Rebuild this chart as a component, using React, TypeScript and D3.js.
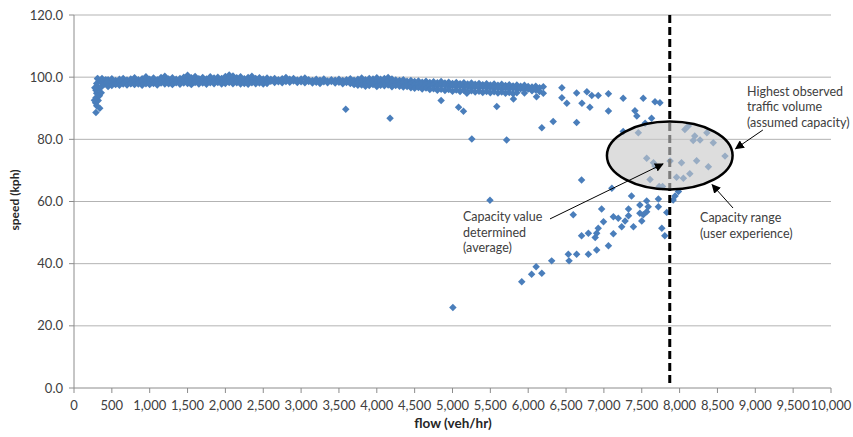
import React from 'react';
import * as d3 from 'd3';

const W = 853;
const H = 437;

const xTickValues = [0, 500, 1000, 1500, 2000, 2500, 3000, 3500, 4000, 4500, 5000, 5500, 6000, 6500, 7000, 7500, 8000, 8500, 9000, 9500, 10000];
const yTickValues = [0, 20, 40, 60, 80, 100, 120];

// start-up cluster at very low flow
const rampUpPoints: [number, number][] = [
  [290, 88.6], [340, 90.0], [300, 90.8], [285, 91.8], [320, 92.5], [290, 93.4], [335, 94.0],
  [300, 94.8], [290, 95.8], [330, 96.3], [310, 97.0], [300, 98.0], [350, 98.8], [320, 99.3],
  [380, 97.5], [370, 99.6], [400, 98.9], [420, 99.2], [360, 96.8], [400, 97.8], [430, 98.2], [310, 99.6],
  [270, 92.6], [275, 96.6], [360, 95.0],
];

// dense free-flow band: [flow, speeds...]
const freeFlowBand: number[][] = [
  [450, 99.2, 98.1, 97.0], [500, 99.5, 98.4, 97.3], [550, 98.9, 98.0, 97.6], [600, 99.3, 98.6, 97.4],
  [650, 99.6, 98.2, 97.8], [700, 99.1, 98.5, 97.5], [750, 99.4, 98.0, 97.9], [800, 99.8, 98.7, 97.6],
  [850, 99.2, 98.3, 97.8], [900, 99.5, 98.6, 97.4], [950, 100.1, 98.9, 97.9], [1000, 99.3, 98.4, 97.6],
  [1050, 99.7, 98.8, 98.0], [1100, 99.2, 98.3, 97.5], [1150, 99.9, 98.9, 98.1], [1200, 100.3, 99.1, 97.8],
  [1250, 99.4, 98.6, 97.9], [1300, 99.8, 98.5, 97.6], [1350, 99.3, 98.9, 98.2], [1400, 99.6, 98.4, 97.7],
  [1450, 100.0, 99.0, 98.1], [1500, 100.6, 99.2, 98.0], [1550, 99.8, 98.7, 97.6], [1600, 100.2, 99.0, 98.3],
  [1650, 99.5, 98.6, 97.8], [1700, 99.9, 98.8, 98.1], [1750, 99.4, 98.5, 97.7], [1800, 100.1, 99.1, 98.2],
  [1850, 99.7, 98.7, 97.9], [1900, 100.0, 98.9, 98.3], [1950, 99.6, 98.4, 97.8], [2000, 100.2, 99.2, 98.0],
  [2050, 100.7, 99.4, 98.3], [2100, 100.4, 99.0, 97.9], [2150, 99.8, 98.8, 98.2], [2200, 100.1, 99.3, 97.8],
  [2250, 99.5, 98.6, 98.0], [2300, 99.9, 98.9, 97.7], [2350, 100.3, 99.1, 98.2], [2400, 99.6, 98.5, 97.9],
  [2450, 99.8, 98.8, 98.1], [2500, 99.4, 98.6, 97.8], [2550, 99.7, 98.4, 98.0], [2600, 99.3, 98.7],
  [2650, 99.6, 98.3], [2700, 99.2, 98.5], [2750, 99.5, 98.2], [2800, 99.9, 98.6], [2850, 99.3, 98.4],
  [2900, 99.6, 98.8], [2950, 99.1, 98.3], [3000, 99.4, 98.5], [3050, 99.7, 98.2], [3100, 99.2, 98.6],
  [3150, 98.9, 98.1], [3200, 99.3, 98.4], [3250, 99.0, 98.0], [3300, 99.4, 98.5], [3350, 98.8, 98.2],
  [3400, 99.2, 98.6], [3450, 99.0, 98.1], [3500, 99.3, 98.4], [3550, 98.9, 97.9], [3600, 99.2, 98.3],
  [3650, 99.5, 98.0], [3700, 99.0, 98.5, 97.6], [3750, 99.3, 98.2, 97.4], [3800, 99.7, 98.6, 97.5],
  [3850, 99.2, 98.0, 97.1], [3900, 99.6, 98.4, 97.3], [3950, 99.4, 98.7, 97.6], [4000, 99.8, 98.3, 97.0],
  [4050, 99.3, 98.5, 97.4], [4100, 99.6, 98.1, 97.2], [4150, 99.9, 98.6, 97.5], [4200, 99.4, 98.2, 96.9],
  [4250, 99.1, 98.4, 97.3], [4300, 98.9, 98.0, 97.1], [4350, 99.2, 98.3, 96.8], [4400, 98.7, 97.8, 97.0],
  [4450, 98.9, 97.9, 96.6], [4500, 98.6, 97.6, 96.4], [4550, 98.8, 97.5, 96.7], [4600, 98.4, 97.3, 96.2],
  [4650, 98.7, 97.7, 96.5], [4700, 98.3, 97.4, 96.0], [4750, 98.5, 97.6, 96.3], [4800, 98.2, 97.2, 95.8],
  [4850, 98.6, 97.5, 96.1], [4900, 98.1, 97.3, 95.7], [4950, 98.4, 97.0, 96.0], [5000, 98.0, 97.2, 95.5],
  [5050, 98.3, 96.9, 95.9], [5100, 97.9, 97.1, 95.4], [5150, 98.2, 96.8, 95.8], [5200, 97.8, 97.0, 95.3],
  [5250, 98.1, 96.7, 95.6], [5300, 97.7, 96.9, 95.2], [5350, 98.0, 96.6, 95.5], [5400, 97.6, 96.8, 95.1],
  [5450, 97.9, 96.5, 95.4], [5500, 97.5, 96.7, 95.0], [5550, 97.8, 96.4, 95.3], [5600, 97.4, 96.6, 94.9],
  [5650, 97.7, 96.3, 95.2], [5700, 97.3, 96.5, 94.8], [5750, 97.6, 96.2, 95.1], [5800, 97.2, 96.4, 94.7],
  [5850, 97.5, 96.1, 95.0], [5900, 97.1, 96.3], [5950, 97.4, 96.0, 94.9], [6000, 97.0, 96.2],
  [6050, 96.8, 95.6], [6100, 97.1, 95.9], [6150, 96.6, 95.4], [6200, 96.9],
];

// scattered points near free flow / transition
const stragglerPoints: [number, number][] = [
  [3590, 89.7], [4175, 86.8], [4850, 92.5], [5080, 90.3], [5145, 89.0], [5190, 94.8], [5585, 90.6],
  [5805, 93.0], [6110, 93.7], [6200, 94.8], [5255, 80.1], [5715, 79.8], [6180, 83.7], [6330, 85.7],
  [6445, 96.6], [6445, 93.4], [6510, 91.6], [6640, 94.9], [6640, 85.4], [6710, 91.6], [6775, 95.3],
  [6815, 90.3], [6840, 94.1], [6925, 94.1], [7060, 94.7], [7060, 89.1], [7255, 93.2], [7410, 89.2],
  [7435, 87.5], [7520, 93.2], [7545, 85.2], [7630, 86.8], [7675, 92.1], [7740, 91.8],
];

// points around capacity
const capacityPoints: [number, number][] = [
  [7255, 82.5], [7455, 82.1], [8070, 83.2], [8115, 84.3], [8200, 81.1], [8180, 79.6], [8270, 79.8],
  [8360, 82.1], [8445, 78.9], [8600, 74.6], [7565, 73.9], [7655, 72.5], [7675, 71.4], [7875, 73.0],
  [8025, 72.5], [8225, 73.1], [8380, 71.2], [7610, 67.1], [7960, 67.8], [8050, 67.5], [8135, 68.9],
  [7730, 64.8], [7775, 64.8], [7985, 63.2], [7940, 61.8], [7365, 61.8], [7105, 64.3], [6705, 66.9],
];

// congested branch
const congestedPoints: [number, number][] = [
  [7565, 60.2], [7720, 60.8], [7720, 58.3], [7585, 58.3], [7475, 58.9], [7325, 57.6], [7475, 56.2],
  [7565, 56.7], [7830, 56.5], [7915, 60.5], [6970, 57.6], [6595, 55.7], [7125, 55.1], [7190, 54.6],
  [7280, 53.7], [7325, 55.4], [7520, 55.7], [7500, 53.7], [6995, 53.5], [7390, 51.9], [7235, 51.9],
  [6925, 51.4], [6905, 49.8], [6795, 49.8], [6705, 49.0], [6885, 48.4], [7125, 49.6], [7765, 51.4],
  [7805, 49.0], [7060, 45.8], [6905, 44.4], [6795, 43.0], [6640, 43.0], [6530, 43.0], [6540, 40.9],
  [6310, 40.9], [6105, 39.0], [6045, 36.6], [6180, 36.9], [5915, 34.2], [5005, 25.9], [5495, 60.4],
];

const capacityFlow = 7870;
const ellipseCenter = [7870, 74.8];
const ellipseRadii = [830, 10.9];

const annotations = [
  { lines: ['Highest observed', 'traffic volume', '(assumed capacity)'], at: [8890, 94.0], from: [9100, 83.0], to: [8740, 77.0] },
  { lines: ['Capacity range', '(user experience)'], at: [8270, 53.4], from: [8706, 57.9], to: [8430, 65.4] },
  { lines: ['Capacity value', 'determined', '(average)'], at: [5139, 53.7], from: [6288, 54.4], to: [7781, 72.1] },
];

const FONT = 'Lato, "Open Sans", sans-serif';

export default function App() {
  const x = d3.scaleLinear().domain([0, 10000]).range([74, 831]);
  const y = d3.scaleLinear().domain([0, 120]).range([388, 15]);
  const fmtX = d3.format(',');
  const fmtY = d3.format('.1f');

  const allPoints: [number, number][] = [];
  rampUpPoints.forEach((p) => allPoints.push(p));
  freeFlowBand.forEach((row) => row.slice(1).forEach((s) => allPoints.push([row[0], s])));
  stragglerPoints.forEach((p) => allPoints.push(p));
  capacityPoints.forEach((p) => allPoints.push(p));
  congestedPoints.forEach((p) => allPoints.push(p));

  const diamond = {
    draw(ctx: any, size: number) {
      const r = Math.sqrt(size / 2);
      ctx.moveTo(0, -r);
      ctx.lineTo(r, 0);
      ctx.lineTo(0, r);
      ctx.lineTo(-r, 0);
      ctx.closePath();
    },
  };
  const markerPath = d3.symbol().type(diamond as any).size(28)() as string;

  const ecx = x(ellipseCenter[0]);
  const ecy = y(ellipseCenter[1]);
  const erx = x(ellipseCenter[0] + ellipseRadii[0]) - ecx;
  const ery = y(ellipseCenter[1] - ellipseRadii[1]) - ecy;

  return (
    <svg width={W} height={H} style={{ position: 'absolute', left: 0, top: 0, background: '#fff' }} fontFamily={FONT}>
      <defs>
        <marker id="arrow" viewBox="0 0 10 10" refX="9" refY="5" markerWidth="9" markerHeight="9" markerUnits="userSpaceOnUse" orient="auto">
          <path d="M0,0 L10,5 L0,10 Z" fill="#000" />
        </marker>
      </defs>
      <rect x={0} y={0} width={W} height={H} fill="#fff" />
      {/* gridlines */}
      {yTickValues.filter((v) => v > 0).map((v) => (
        <line key={'g' + v} x1={x(0)} x2={x(10000)} y1={y(v)} y2={y(v)} stroke="#b3b3b3" strokeWidth={1} />
      ))}
      {/* axes */}
      <line x1={x(0)} x2={x(0)} y1={y(0)} y2={y(120)} stroke="#8c8c8c" strokeWidth={1} />
      <line x1={x(0)} x2={x(10000)} y1={y(0)} y2={y(0)} stroke="#8c8c8c" strokeWidth={1} />
      {yTickValues.map((v) => (
        <g key={'yt' + v}>
          <line x1={x(0) - 5} x2={x(0)} y1={y(v)} y2={y(v)} stroke="#8c8c8c" />
          <text x={63} y={y(v)} dy="0.35em" textAnchor="end" fontSize={13} fill="#404040">{fmtY(v)}</text>
        </g>
      ))}
      {xTickValues.map((v) => (
        <g key={'xt' + v}>
          <line x1={x(v)} x2={x(v)} y1={y(0)} y2={y(0) + 5} stroke="#8c8c8c" />
          <text x={x(v)} y={405} dy="0.35em" textAnchor="middle" fontSize={13} fill="#404040">{fmtX(v)}</text>
        </g>
      ))}
      <text x={453} y={423} dy="0.35em" textAnchor="middle" fontSize={13.5} fontWeight="bold" fill="#262626">flow (veh/hr)</text>
      <text transform="translate(15,200) rotate(-90)" dy="0.35em" textAnchor="middle" fontSize={12} fontWeight="bold" fill="#262626">speed (kph)</text>

      {/* points */}
      <g fill="#4a7ebb">
        {allPoints.map((p, i) => (
          <path key={i} d={markerPath} transform={`translate(${x(p[0])},${y(p[1])})`} />
        ))}
      </g>

      {/* capacity line */}
      <line x1={x(capacityFlow)} x2={x(capacityFlow)} y1={y(120)} y2={y(0) - 2} stroke="#000" strokeWidth={3} strokeDasharray="8,4" />

      {/* capacity ellipse */}
      <ellipse cx={ecx} cy={ecy} rx={erx} ry={ery} fill="rgba(200,200,200,0.62)" stroke="#000" strokeWidth={2.5} />

      {/* annotations */}
      {annotations.map((a, i) => (
        <g key={'a' + i}>
          <line x1={x(a.from[0])} y1={y(a.from[1])} x2={x(a.to[0])} y2={y(a.to[1])} stroke="#000" strokeWidth={1} markerEnd="url(#arrow)" />
          <text x={x(a.at[0])} y={y(a.at[1])} fontSize={12.5} fill="#404040">
            {a.lines.map((l, j) => (
              <tspan key={j} x={x(a.at[0])} dy={j === 0 ? 0 : 15.5}>{l}</tspan>
            ))}
          </text>
        </g>
      ))}
    </svg>
  );
}
